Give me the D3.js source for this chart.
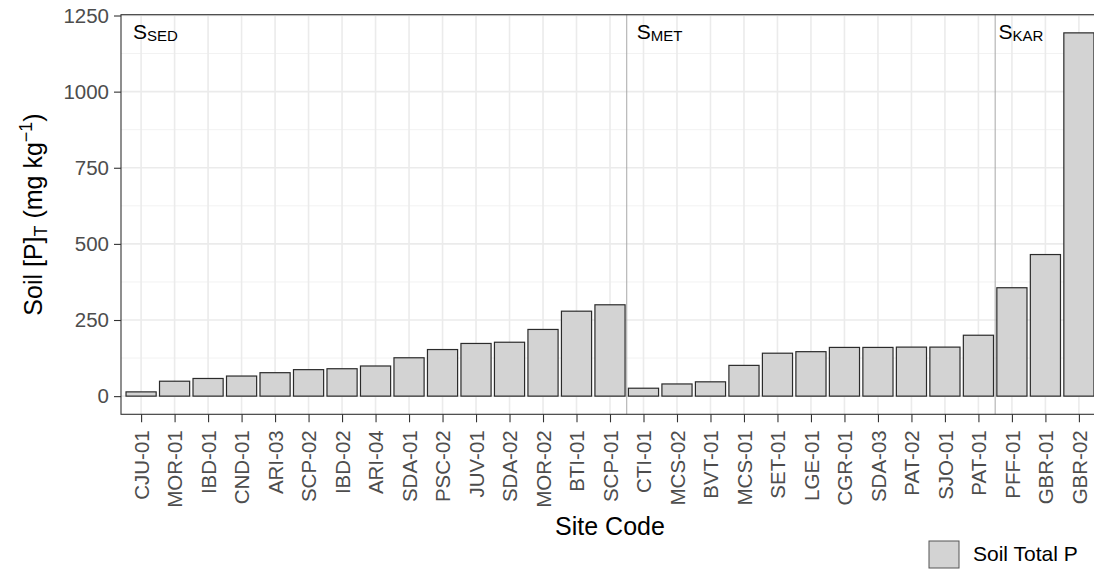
<!DOCTYPE html>
<html>
<head>
<meta charset="utf-8">
<script src="https://cdn.jsdelivr.net/npm/d3@7"></script>
<style>
  body { margin: 0; background: #fff; }
  svg { display: block; font-family: "Liberation Sans", Arial, sans-serif; }
</style>
</head>
<body>
<div id="chart"></div>
<script>
// Site codes, in plot order
var sites = ["CJU-01", "MOR-01", "IBD-01", "CND-01", "ARI-03", "SCP-02", "IBD-02",
  "ARI-04", "SDA-01", "PSC-02", "JUV-01", "SDA-02", "MOR-02", "BTI-01", "SCP-01",
  "CTI-01", "MCS-02", "BVT-01", "MCS-01", "SET-01", "LGE-01", "CGR-01", "SDA-03",
  "PAT-02", "SJO-01", "PAT-01", "PFF-01", "GBR-01", "GBR-02"];

// Soil total P (mg/kg)
var totalP = [14, 49, 58, 66, 77, 87, 90, 99, 126, 153, 173, 177, 219, 279, 300,
  26, 40, 47, 101, 141, 146, 160, 160, 161, 161, 200, 356, 465, 1193];

// Groups: name subscript, first site index of each group
var groupNames = ["SED", "MET", "KAR"];
var groupStart = [0, 15, 26];
// label positions in category units (index of site)
var groupLabelX = [-0.24, 14.8, 25.6];

var yTicks = [0, 250, 500, 750, 1000, 1250];
var yMinor = [125, 375, 625, 875, 1125];

var width = 1094;
var height = 570;
var panel = { left: 121, right: 1099, top: 14.7, bottom: 414.3 };

var svg = d3.select("#chart")
  .append("svg")
  .attr("width", width)
  .attr("height", height);

// Scales (ggplot-like expansion)
var x = d3.scalePoint()
  .domain(sites)
  .range([panel.left, panel.right])
  .padding(0.6);
var step = x.step();

var maxP = d3.max(totalP);
var y = d3.scaleLinear()
  .domain([-0.05 * maxP, maxP * 1.05])
  .range([panel.bottom, panel.top]);

function xIndex(i) {
  return x(sites[0]) + i * step;
}

// Grid lines
var grid = svg.append("g");
grid.selectAll(".minor")
  .data(yMinor)
  .enter()
  .append("line")
  .attr("x1", panel.left).attr("x2", panel.right)
  .attr("y1", (d) => y(d)).attr("y2", (d) => y(d))
  .attr("stroke", "#f2f2f2")
  .attr("stroke-width", 1);
grid.selectAll(".majorY")
  .data(yTicks)
  .enter()
  .append("line")
  .attr("x1", panel.left).attr("x2", panel.right)
  .attr("y1", (d) => y(d)).attr("y2", (d) => y(d))
  .attr("stroke", "#ebebeb")
  .attr("stroke-width", 1.6);
grid.selectAll(".majorX")
  .data(sites)
  .enter()
  .append("line")
  .attr("x1", (d) => x(d)).attr("x2", (d) => x(d))
  .attr("y1", panel.top).attr("y2", panel.bottom)
  .attr("stroke", "#ebebeb")
  .attr("stroke-width", 1.6);

// Group separators
svg.selectAll(".sep")
  .data(groupStart.slice(1))
  .enter()
  .append("line")
  .attr("x1", (d) => xIndex(d - 0.5)).attr("x2", (d) => xIndex(d - 0.5))
  .attr("y1", panel.top).attr("y2", panel.bottom)
  .attr("stroke", "#a8a8a8")
  .attr("stroke-width", 1);

// Bars
var barW = step * 0.9;
svg.append("g")
  .selectAll("rect")
  .data(sites)
  .enter()
  .append("rect")
  .attr("x", (d) => x(d) - barW / 2)
  .attr("width", barW)
  .attr("y", (d, i) => y(totalP[i]))
  .attr("height", (d, i) => y(0) - y(totalP[i]))
  .attr("fill", "#d3d3d3")
  .attr("stroke", "#2b2b2b")
  .attr("stroke-width", 1.2);

// Group labels
groupNames.forEach(function (g, i) {
  var t = svg.append("text")
    .attr("x", xIndex(groupLabelX[i]))
    .attr("y", 38.5)
    .attr("font-size", "21px")
    .attr("fill", "#000");
  t.append("tspan").text("S");
  t.append("tspan").attr("font-size", "15px").attr("dy", 2).text(g);
});

// Panel border
svg.append("rect")
  .attr("x", panel.left)
  .attr("y", panel.top)
  .attr("width", panel.right - panel.left)
  .attr("height", panel.bottom - panel.top)
  .attr("fill", "none")
  .attr("stroke", "#333333")
  .attr("stroke-width", 1.1);

// Y axis
var yAxis = d3.axisLeft(y)
  .tickValues(yTicks)
  .tickFormat(d3.format("d"))
  .tickSize(7)
  .tickPadding(5);
var gy = svg.append("g")
  .attr("transform", "translate(" + panel.left + ",0)")
  .call(yAxis);
gy.select(".domain").remove();
gy.selectAll(".tick line").attr("stroke", "#333333").attr("stroke-width", 1.1);
gy.selectAll(".tick text")
  .attr("font-size", "20.5px")
  .attr("font-family", "Liberation Sans, Arial, sans-serif")
  .attr("fill", "#4d4d4d");

// X axis
var xAxis = d3.axisBottom(x)
  .tickSize(8)
  .tickPadding(8);
var gx = svg.append("g")
  .attr("transform", "translate(0," + panel.bottom + ")")
  .call(xAxis);
gx.select(".domain").remove();
gx.selectAll(".tick line").attr("stroke", "#333333").attr("stroke-width", 1.1);
gx.selectAll(".tick text")
  .attr("font-size", "20.5px")
  .attr("font-family", "Liberation Sans, Arial, sans-serif")
  .attr("fill", "#4d4d4d")
  .attr("transform", "rotate(-90)")
  .attr("x", -16)
  .attr("y", 0)
  .attr("dy", "0.35em")
  .attr("text-anchor", "end");

// Axis titles
svg.append("text")
  .attr("x", (panel.left + panel.right) / 2)
  .attr("y", 535)
  .attr("text-anchor", "middle")
  .attr("font-size", "25px")
  .attr("fill", "#000")
  .text("Site Code");

var yt = svg.append("text")
  .attr("transform", "translate(42," + (panel.top + panel.bottom) / 2 + ") rotate(-90)")
  .attr("text-anchor", "middle")
  .attr("font-size", "25px")
  .attr("fill", "#000");
yt.append("tspan").text("Soil [P]");
yt.append("tspan").attr("font-size", "18px").attr("dy", 5).text("T");
yt.append("tspan").attr("dy", -5).text(" (mg kg");
yt.append("tspan").attr("font-size", "18px").attr("dy", -10).text("\u22121");
yt.append("tspan").attr("dy", 10).text(")");

// Legend
var legend = svg.append("g").attr("transform", "translate(929,541)");
legend.append("rect")
  .attr("width", 30)
  .attr("height", 27)
  .attr("fill", "#d3d3d3")
  .attr("stroke", "#555555")
  .attr("stroke-width", 1);
legend.append("text")
  .attr("x", 44)
  .attr("y", 20)
  .attr("font-size", "21px")
  .attr("fill", "#000")
  .text("Soil Total P");
</script>
</body>
</html>
